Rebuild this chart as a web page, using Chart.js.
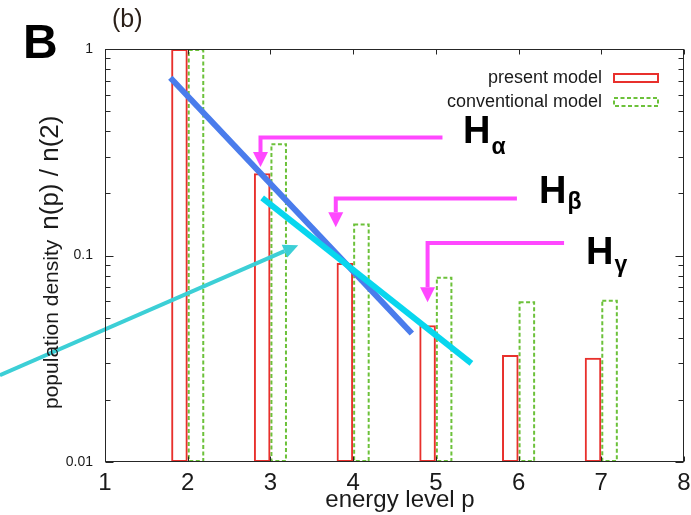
<!DOCTYPE html>
<html>
<head>
<meta charset="utf-8">
<script src="https://cdn.jsdelivr.net/npm/chart.js@4/dist/chart.umd.min.js"></script>
<style>
  html, body { margin: 0; padding: 0; background: #fff; }
  canvas { display: block; }
</style>
</head>
<body>
<canvas id="popChart" width="691" height="515"></canvas>
<script>
// population ratio n(p)/n(2) per energy level
const levels = [2, 3, 4, 5, 6, 7];
const presentModel = [1.0, 0.25, 0.092, 0.046, 0.033, 0.032];
const conventionalModel = [1.0, 0.35, 0.143, 0.079, 0.060, 0.061];

// guide lines over the bars (energy level, ratio)
const steepFitX = [1.79, 4.71];
const steepFitY = [0.726, 0.0419];
const shallowFitX = [2.9, 5.43];
const shallowFitY = [0.19, 0.030];
const pointerX = [-0.27, 3.17];
const pointerY = [0.0263, 0.105];

// Balmer markers: horizontal run, then down toward the level
const alphaX = [5.08, 2.88, 2.88];
const alphaY = [0.373, 0.373, 0.317];
const betaX = [5.98, 3.79, 3.79];
const betaY = [0.189, 0.189, 0.162];
const gammaX = [6.55, 4.9, 4.9];
const gammaY = [0.115, 0.115, 0.0702];

const xTicks = [1, 2, 3, 4, 5, 6, 7, 8];
const yDecades = [0.01, 0.1, 1];

const FONT = "'Liberation Sans', sans-serif";
const RED = '#e8302c';
const GREEN = '#6cc13a';
const MAGENTA = '#ff48ff';

const pts = (xs, ys) => xs.map((x, i) => ({ x: x, y: ys[i] }));

// every minor tick of the log axis: 1..9 times each decade
const yTickValues = [];
yDecades.forEach((d, i) => {
  const steps = i === yDecades.length - 1 ? 1 : 9;
  for (let m = 1; m <= steps; m++) yTickValues.push(Number((d * m).toPrecision(2)));
});

function guide(data, color, width, order, extra) {
  return Object.assign({
    type: 'line',
    data: data,
    borderColor: color,
    borderWidth: width,
    pointRadius: 0,
    tension: 0,
    fill: false,
    order: order,
    borderCapStyle: 'butt',
    borderJoinStyle: 'miter'
  }, extra || {});
}

const decor = {
  id: 'decor',
  afterDatasetDraw(chart, args) {
    const ds = chart.data.datasets[args.index];
    const ctx = chart.ctx;
    if (ds.dashedBox) {
      ctx.save();
      ctx.strokeStyle = ds.dashedBox;
      ctx.lineWidth = 2;
      ctx.setLineDash([4, 2.5]);
      args.meta.data.forEach(bar => {
        const p = bar.getProps(['x', 'y', 'base', 'width'], true);
        ctx.strokeRect(p.x - p.width / 2 + 1, p.y + 1, p.width - 2, p.base - p.y - 2);
      });
      ctx.restore();
    }
    if (ds.arrowHead) {
      const el = args.meta.data;
      const a = el[el.length - 2], b = el[el.length - 1];
      const dx = b.x - a.x, dy = b.y - a.y, len = Math.hypot(dx, dy);
      const ux = dx / len, uy = dy / len;
      const L = ds.arrowHead[0], W = ds.arrowHead[1];
      ctx.save();
      ctx.fillStyle = ds.borderColor;
      ctx.beginPath();
      ctx.moveTo(b.x + ux * L, b.y + uy * L);
      ctx.lineTo(b.x - uy * W / 2, b.y + ux * W / 2);
      ctx.lineTo(b.x + uy * W / 2, b.y - ux * W / 2);
      ctx.closePath();
      ctx.fill();
      ctx.restore();
    }
  },
  afterDraw(chart) {
    const ctx = chart.ctx;
    const area = chart.chartArea;
    const xs = chart.scales.x, ys = chart.scales.y;
    const L = Math.round(area.left) + 0.5, R = Math.round(area.right) - 0.5;
    const T = Math.round(area.top) + 0.5, B = Math.round(area.bottom) - 0.5;

    ctx.save();
    // frame and inward ticks
    ctx.strokeStyle = '#262626';
    ctx.lineWidth = 1;
    ctx.strokeRect(L, T, R - L, B - T);
    ctx.beginPath();
    yTickValues.forEach(v => {
      const y = Math.round(ys.getPixelForValue(v)) + 0.5;
      const len = yDecades.includes(v) ? 8 : 5;
      ctx.moveTo(L, y); ctx.lineTo(L + len, y);
      ctx.moveTo(R, y); ctx.lineTo(R - len, y);
    });
    xTicks.forEach(v => {
      const x = Math.round(xs.getPixelForValue(v)) + 0.5;
      ctx.moveTo(x, T); ctx.lineTo(x, T + 5);
      ctx.moveTo(x, B); ctx.lineTo(x, B - 5);
    });
    ctx.stroke();

    // axis titles
    ctx.fillStyle = '#1a1a1a';
    ctx.textBaseline = 'alphabetic';
    ctx.textAlign = 'center';
    ctx.font = '24px ' + FONT;
    ctx.fillText('energy level p', 400, 507);

    ctx.save();
    ctx.translate(58, 409);
    ctx.rotate(-Math.PI / 2);
    ctx.textAlign = 'left';
    ctx.font = '21px ' + FONT;
    ctx.fillText('population density', 0, 0);
    const w = ctx.measureText('population density').width;
    ctx.font = '26px ' + FONT;
    ctx.fillText('n(p) / n(2)', w + 10, 0);
    ctx.restore();

    // panel labels
    ctx.textAlign = 'left';
    ctx.font = 'bold 48px ' + FONT;
    ctx.fillStyle = '#000';
    ctx.fillText('B', 23, 58);
    ctx.font = '25px ' + FONT;
    ctx.fillStyle = '#2a1f18';
    ctx.fillText('(b)', 112, 27);

    // Balmer line labels
    ctx.fillStyle = '#000';
    const labels = [['H', 'α', 463, 143, 154], ['H', 'β', 539, 203, 209], ['H', 'γ', 586, 264, 272]];
    labels.forEach(l => {
      ctx.font = 'bold 38px ' + FONT;
      ctx.fillText(l[0], l[2], l[3]);
      const hw = ctx.measureText(l[0]).width;
      ctx.font = 'bold 23px ' + FONT;
      ctx.fillText(l[1], l[2] + hw + 1, l[4]);
    });

    // legend
    ctx.textAlign = 'right';
    ctx.textBaseline = 'middle';
    ctx.font = '18px ' + FONT;
    ctx.fillStyle = '#1a1a1a';
    const legendRows = [[chart.data.datasets[0], 78, false], [chart.data.datasets[1], 102, true]];
    legendRows.forEach(r => {
      const ds = r[0];
      ctx.fillText(ds.label, 602, r[1]);
      ctx.lineWidth = 2;
      ctx.strokeStyle = r[2] ? ds.dashedBox : ds.borderColor;
      ctx.setLineDash(r[2] ? [4, 2.5] : []);
      ctx.strokeRect(614, r[1] - 4, 44, 8);
    });
    ctx.restore();
  }
};

new Chart(document.getElementById('popChart').getContext('2d'), {
  type: 'bar',
  data: {
    datasets: [
      {
        label: 'present model',
        data: pts(levels, presentModel),
        backgroundColor: 'rgba(0,0,0,0)',
        borderColor: RED,
        borderWidth: 2,
        borderSkipped: false,
        categoryPercentage: 0.4,
        barPercentage: 1,
        order: 10
      },
      {
        label: 'conventional model',
        data: pts(levels, conventionalModel),
        backgroundColor: 'rgba(0,0,0,0)',
        borderWidth: 0,
        dashedBox: GREEN,
        categoryPercentage: 0.4,
        barPercentage: 1,
        order: 11
      },
      guide(pts(steepFitX, steepFitY), '#4a7cec', 6, 4),
      guide(pts(shallowFitX, shallowFitY), '#08d6ee', 6, 3),
      guide(pts(pointerX, pointerY), '#3ccfd6', 4, 2, { clip: false, arrowHead: [15, 14] }),
      guide(pts(alphaX, alphaY), MAGENTA, 4, 1, { arrowHead: [15, 15] }),
      guide(pts(betaX, betaY), MAGENTA, 4, 1, { arrowHead: [15, 15] }),
      guide(pts(gammaX, gammaY), MAGENTA, 4, 1, { arrowHead: [15, 15] })
    ]
  },
  options: {
    responsive: false,
    animation: false,
    events: [],
    layout: { padding: { left: 0, top: 49, right: 7, bottom: 0 } },
    plugins: {
      legend: { display: false },
      tooltip: { enabled: false }
    },
    scales: {
      x: {
        type: 'linear',
        min: 1,
        max: 8,
        offset: false,
        grid: { display: false, drawTicks: false },
        border: { display: false },
        ticks: {
          stepSize: 1,
          padding: 7,
          color: '#1a1a1a',
          font: { family: FONT, size: 24 }
        },
        afterFit: (scale) => {
          scale.height = 53;
          // let the "8" label hang past the frame instead of shrinking the plot
          scale.paddingLeft = 0;
          scale.paddingRight = 0;
        }
      },
      y: {
        type: 'logarithmic',
        min: 0.01,
        max: 1,
        grid: { display: false, drawTicks: false },
        border: { display: false },
        afterBuildTicks: (scale) => {
          scale.ticks = yTickValues.map(v => ({ value: v }));
        },
        ticks: {
          autoSkip: false,
          padding: 12,
          color: '#1a1a1a',
          font: { family: FONT, size: 14 },
          callback: (v) => yDecades.includes(v) ? String(v) : ''
        },
        afterFit: (scale) => { scale.width = 105; }
      }
    }
  },
  plugins: [decor]
});
</script>
</body>
</html>
